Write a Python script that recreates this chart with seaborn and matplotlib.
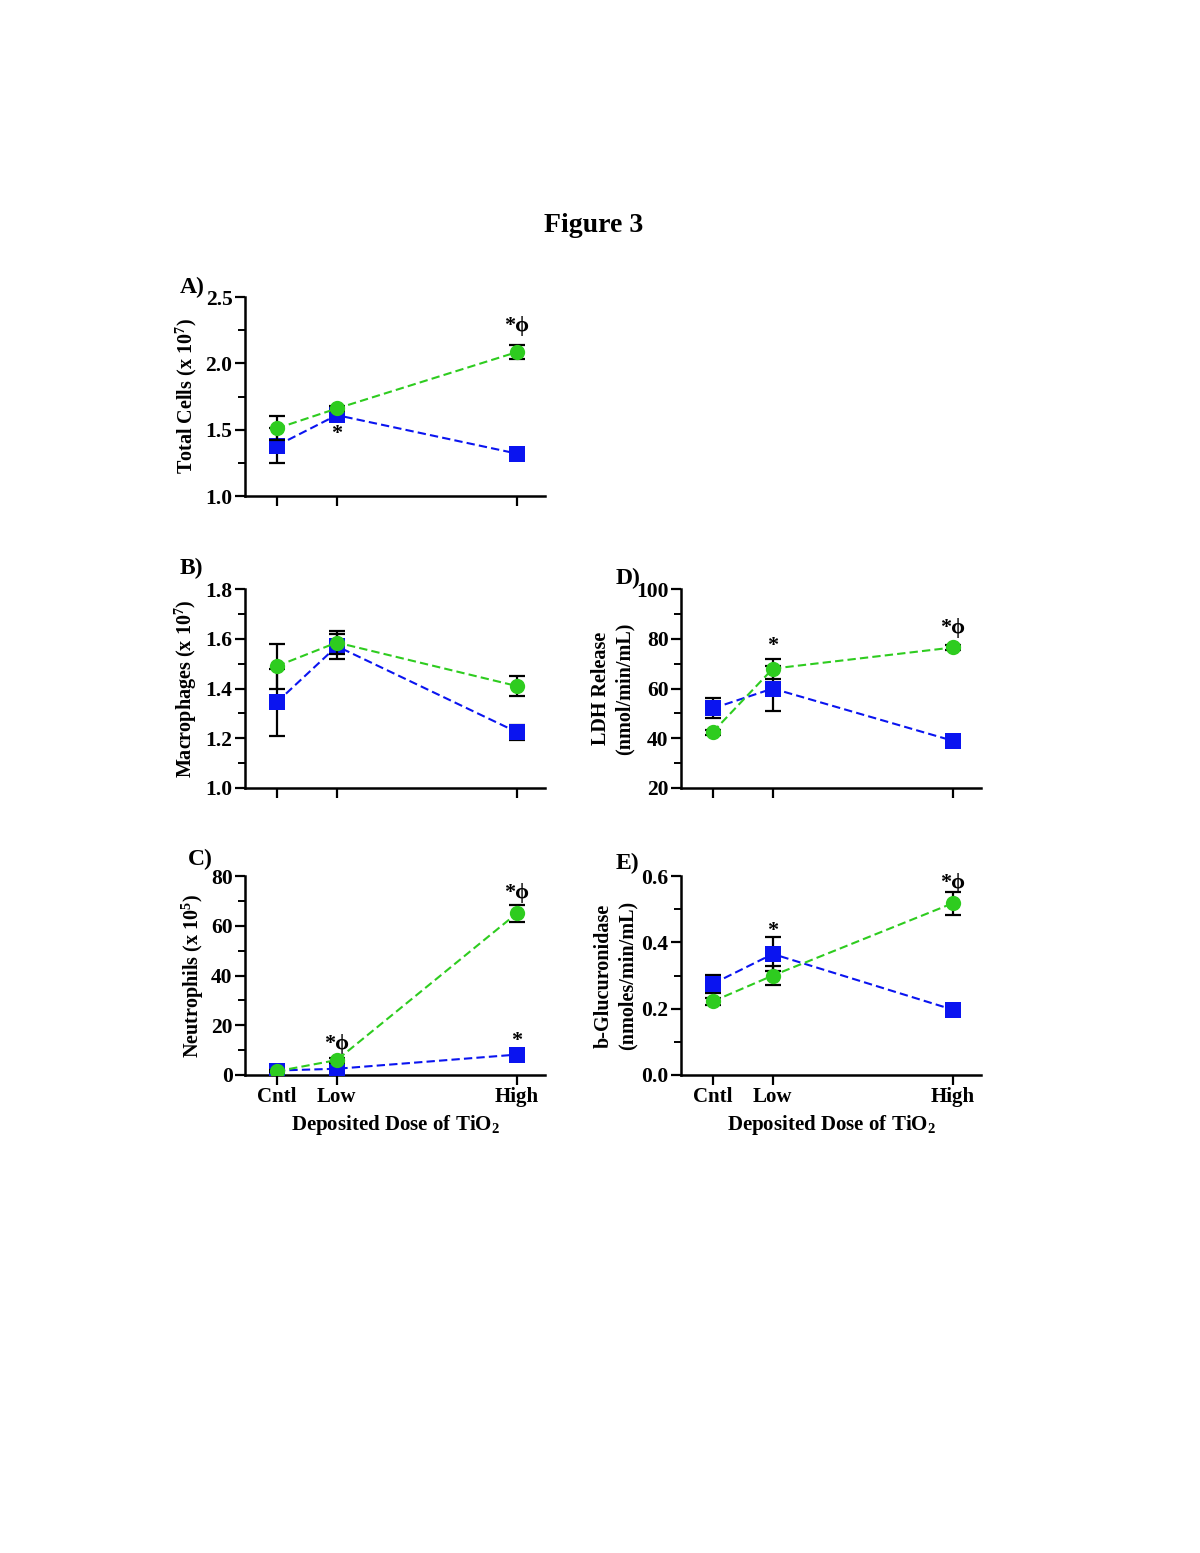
import matplotlib.pyplot as plt
import numpy as np
import pandas as pd
import seaborn as sns

# doses on a numeric axis (Cntl, Low, High)
doses = ["Cntl", "Low", "High"]
dose_x = [0, 1, 4]

# A) total cells (x 10^7)
total_sq = [1.38, 1.61, 1.32]
total_sq_err = [0.13, 0.03, 0.02]
total_ci = [1.51, 1.66, 2.085]
total_ci_err = [0.09, 0.02, 0.05]

# B) macrophages (x 10^7)
macro_sq = [1.345, 1.57, 1.225]
macro_sq_err = [0.135, 0.05, 0.03]
macro_ci = [1.49, 1.585, 1.41]
macro_ci_err = [0.09, 0.045, 0.04]

# C) neutrophils (x 10^5)
neut_sq = [1.8, 2.5, 8.2]
neut_sq_err = [0.5, 0.5, 1.0]
neut_ci = [1.5, 6.0, 65.0]
neut_ci_err = [0.4, 1.0, 3.5]

# D) LDH release
ldh_sq = [52.0, 60.0, 39.0]
ldh_sq_err = [4.0, 9.0, 1.0]
ldh_ci = [42.5, 68.0, 76.5]
ldh_ci_err = [1.0, 4.0, 1.0]

# E) b-glucuronidase
gluc_sq = [0.275, 0.365, 0.197]
gluc_sq_err = [0.028, 0.05, 0.008]
gluc_ci = [0.222, 0.30, 0.518]
gluc_ci_err = [0.01, 0.028, 0.035]

# significance marks: (dose x, y, text)
marks_A = [(4, 2.28, "*\u03d5"), (1, 1.465, "*")]
marks_B = []
marks_C = [(1, 12.5, "*\u03d5"), (4, 73.0, "*\u03d5"), (4, 13.5, "*")]
marks_D = [(1, 77.0, "*"), (4, 84.5, "*\u03d5")]
marks_E = [(1, 0.435, "*"), (4, 0.58, "*\u03d5")]

sns.set_style("ticks")
plt.rcParams["font.family"] = ["Liberation Serif", "DejaVu Serif"]
plt.rcParams["font.weight"] = "bold"
plt.rcParams["text.color"] = "black"
plt.rcParams["axes.labelcolor"] = "black"
plt.rcParams["xtick.color"] = "black"
plt.rcParams["ytick.color"] = "black"
plt.rcParams["mathtext.fontset"] = "custom"
plt.rcParams["mathtext.rm"] = "Liberation Serif:bold"
plt.rcParams["mathtext.it"] = "Liberation Serif:bold"
plt.rcParams["mathtext.bf"] = "Liberation Serif:bold"

BLUE = "#0a14f0"
GREEN = "#2ecc1f"

fig = plt.figure(figsize=(12, 15.53), dpi=100)
fig.text(0.495, 0.855, "Figure 3", ha="center", va="center",
         fontsize=20, fontweight="bold")

W, H = 0.25, 0.1281
panels = [
    dict(rect=[0.2042, 0.6806, W, H], sq=total_sq, sqe=total_sq_err,
         ci=total_ci, cie=total_ci_err, ylim=(1.0, 2.5), major=0.5, minor=0.25,
         fmt="{:.1f}", ylabel="Total Cells (x 10$^{7}$)", letter="A)",
         lpos=(-0.175, 1.05), ylab_x=-0.155, xlab=False, marks=marks_A),
    dict(rect=[0.2042, 0.4926, W, H], sq=macro_sq, sqe=macro_sq_err,
         ci=macro_ci, cie=macro_ci_err, ylim=(1.0, 1.8), major=0.2, minor=0.1,
         fmt="{:.1f}", ylabel="Macrophages (x 10$^{7}$)", letter="B)",
         lpos=(-0.18, 1.105), ylab_x=-0.155, xlab=False, marks=marks_B),
    dict(rect=[0.2042, 0.3078, W, H], sq=neut_sq, sqe=neut_sq_err,
         ci=neut_ci, cie=neut_ci_err, ylim=(0, 80), major=20, minor=10,
         fmt="{:.0f}", ylabel="Neutrophils (x 10$^{5}$)", letter="C)",
         lpos=(-0.15, 1.085), ylab_x=-0.13, xlab=True, marks=marks_C),
    dict(rect=[0.5675, 0.4926, W, H], sq=ldh_sq, sqe=ldh_sq_err,
         ci=ldh_ci, cie=ldh_ci_err, ylim=(20, 100), major=20, minor=10,
         fmt="{:.0f}", ylabel="LDH Release\n(nmol/min/mL)", letter="D)",
         lpos=(-0.175, 1.055), ylab_x=-0.155, xlab=False, marks=marks_D),
    dict(rect=[0.5675, 0.3078, W, H], sq=gluc_sq, sqe=gluc_sq_err,
         ci=gluc_ci, cie=gluc_ci_err, ylim=(0, 0.6), major=0.2, minor=0.1,
         fmt="{:.1f}", ylabel="b-Glucuronidase\n(nmoles/min/mL)", letter="E)",
         lpos=(-0.18, 1.065), ylab_x=-0.145, xlab=True, marks=marks_E),
]

for p in panels:
    ax = fig.add_axes(p["rect"])
    for vals, errs, col, mk, ms, z in [(p["sq"], p["sqe"], BLUE, "s", 11.5, 3),
                                        (p["ci"], p["cie"], GREEN, "o", 11, 4)]:
        df = pd.DataFrame({"dose": dose_x, "value": vals})
        ax.errorbar(dose_x, vals, yerr=errs, fmt="none", ecolor="black",
                    elinewidth=1.6, capsize=6, capthick=1.6, zorder=z - 1)
        sns.lineplot(data=df, x="dose", y="value", ax=ax, color=col,
                     marker=mk, markersize=ms, markeredgewidth=0,
                     linestyle=(0, (4, 2)), linewidth=1.5, zorder=z)
    for i, y, t in p["marks"]:
        ax.text(i, y, t, ha="center", va="center", fontsize=16,
                fontweight="bold")
    ax.set_xlim(-0.53, 4.47)
    ax.set_ylim(*p["ylim"])
    ax.set_xticks(dose_x)
    if p["xlab"]:
        ax.set_xticklabels(doses, fontsize=15, fontweight="bold")
        ax.set_xlabel("Deposited Dose of TiO$_{2}$", fontsize=15,
                      fontweight="bold", labelpad=4)
    else:
        ax.set_xticklabels([])
        ax.set_xlabel("")
    yt = np.arange(p["ylim"][0], p["ylim"][1] + p["major"] / 2, p["major"])
    ax.set_yticks(yt)
    ax.set_yticklabels([p["fmt"].format(v) for v in yt], fontsize=15.5,
                       fontweight="bold")
    ax.set_yticks(np.arange(p["ylim"][0], p["ylim"][1] + p["minor"] / 2,
                            p["minor"]), minor=True)
    ax.set_ylabel(p["ylabel"], fontsize=14.5, fontweight="bold",
                  linespacing=1.25)
    ax.yaxis.set_label_coords(p["ylab_x"], 0.5)
    ax.tick_params(axis="both", which="major", direction="out", length=7,
                   width=1.6, color="black", pad=2)
    ax.tick_params(axis="y", which="minor", direction="out", length=5,
                   width=1.4, color="black")
    ax.tick_params(axis="x", which="minor", length=0)
    for s in ["left", "bottom"]:
        ax.spines[s].set_linewidth(1.8)
        ax.spines[s].set_color("black")
    sns.despine(ax=ax)
    ax.text(p["lpos"][0], p["lpos"][1], p["letter"], transform=ax.transAxes,
            ha="center", va="center", fontsize=17, fontweight="bold")

fig.savefig("out.png", dpi=100)
